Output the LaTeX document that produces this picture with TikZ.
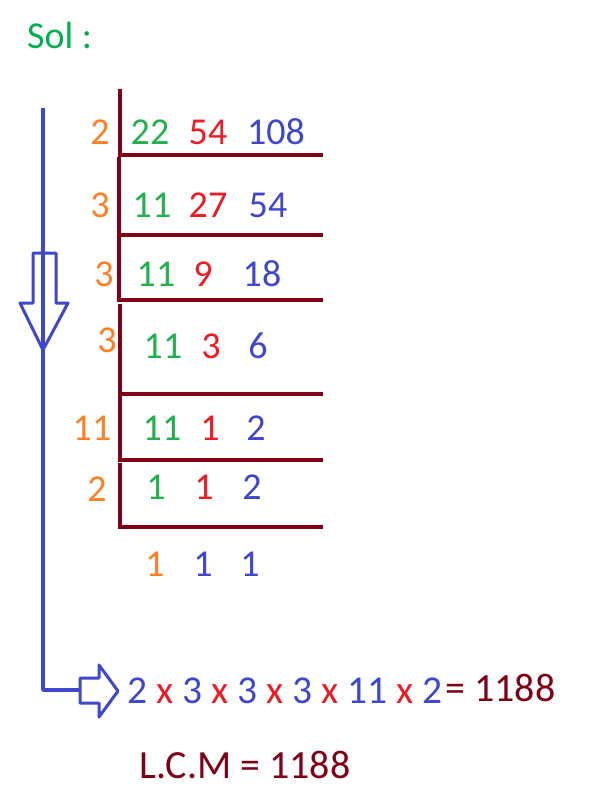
\documentclass[tikz,border=0pt]{standalone}
\usepackage{fontspec}
\setmainfont{Carlito}
\usetikzlibrary{positioning}
\definecolor{SolGreen}{RGB}{0,176,80}
\definecolor{NumGreen}{RGB}{34,177,76}
\definecolor{NumRed}{RGB}{237,28,36}
\definecolor{NumBlue}{RGB}{63,72,204}
\definecolor{DivOrange}{RGB}{255,127,39}
\definecolor{DivMaroon}{RGB}{128,0,21}

\begin{document}
\begin{tikzpicture}[x=1pt, y=-1pt,
  every node/.style={font=\fontsize{38}{40}\selectfont, inner sep=0pt},
  divline/.style={DivMaroon, line width=4.5pt},
  flowline/.style={NumBlue, line width=3.5pt, line join=round},
  hollowarrow/.style={NumBlue, line width=3pt, line join=round}]
  \useasboundingbox (0,0) rectangle (600,800);

  \node[text=SolGreen, anchor=west] (sol) at (27,35) {Sol :};

  % division ladder
  \draw[divline] (120,89) |- (323,155);
  \draw[divline] (119,157) |- (323,235);
  \draw[divline] (119,237) |- (323,300);
  \draw[divline] (120,304) |- (323,394);
  \draw[divline] (120,396) |- (323,460);
  \draw[divline] (120,463) |- (323,527);

  \node[text=DivOrange] (d1) at (100,132) {2};
  \node[text=NumGreen] (a1) at (150,132) {22};
  \node[text=NumRed] (b1) at (208,132) {54};
  \node[text=NumBlue] (c1) at (276,132) {108};

  \node[text=DivOrange] (d2) at (100,205) {3};
  \node[text=NumGreen] (a2) at (152,205) {11};
  \node[text=NumRed] (b2) at (208,205) {27};
  \node[text=NumBlue] (c2) at (268,205) {54};

  \node[text=DivOrange] (d3) at (104,274) {3};
  \node[text=NumGreen] (a3) at (156,274) {11};
  \node[text=NumRed] (b3) at (203,274) {9};
  \node[text=NumBlue] (c3) at (262,274) {18};

  \node[text=DivOrange] (d4) at (107,340) {3};
  \node[text=NumGreen] (a4) at (163,346) {11};
  \node[text=NumRed] (b4) at (211,346) {3};
  \node[text=NumBlue] (c4) at (258,346) {6};

  \node[text=DivOrange] (d5) at (92,428) {11};
  \node[text=NumGreen] (a5) at (162,428) {11};
  \node[text=NumRed] (b5) at (210,428) {1};
  \node[text=NumBlue] (c5) at (256,428) {2};

  \node[text=DivOrange] (d6) at (97,489) {2};
  \node[text=NumGreen] (a6) at (156,487) {1};
  \node[text=NumRed] (b6) at (204,487) {1};
  \node[text=NumBlue] (c6) at (252,487) {2};

  \node[text=DivOrange] (a7) at (155,564) {1};
  \node[text=NumBlue] (b7) at (203,564) {1};
  \node[text=NumBlue] (c7) at (250,564) {1};

  % flow arrow down to the product
  \coordinate (flowtop) at (43,108);
  \coordinate (rarrow) at (80,690);
  \draw[flowline] (flowtop) |- (rarrow);
  \draw[hollowarrow] (33,253) -- (56,253) -- (56,303) -- (68,303) -- (43,350) -- (20,303) -- (33,303) -- cycle;
  \draw[hollowarrow] (rarrow) ++(0,-12) -- (99,678) -- (99,665) -- (118,691) -- (99,717) -- (99,703) -- (80,703) -- cycle;

  \node[anchor=west, font=\fontsize{39.5}{42}\selectfont] (product) at (127,691)
    {\color{NumBlue}2 \color{NumRed}x \color{NumBlue}3 \color{NumRed}x \color{NumBlue}3 \color{NumRed}x \color{NumBlue}3 \color{NumRed}x \color{NumBlue}11 \color{NumRed}x \color{NumBlue}2};
  \node[text=DivMaroon, anchor=west, font=\fontsize{40}{42}\selectfont] (result) at (445,688) {= 1188};

  \node[text=DivMaroon, font=\fontsize{40}{42}\selectfont] (lcm) at (245,765) {L.C.M = 1188};
\end{tikzpicture}
\end{document}
